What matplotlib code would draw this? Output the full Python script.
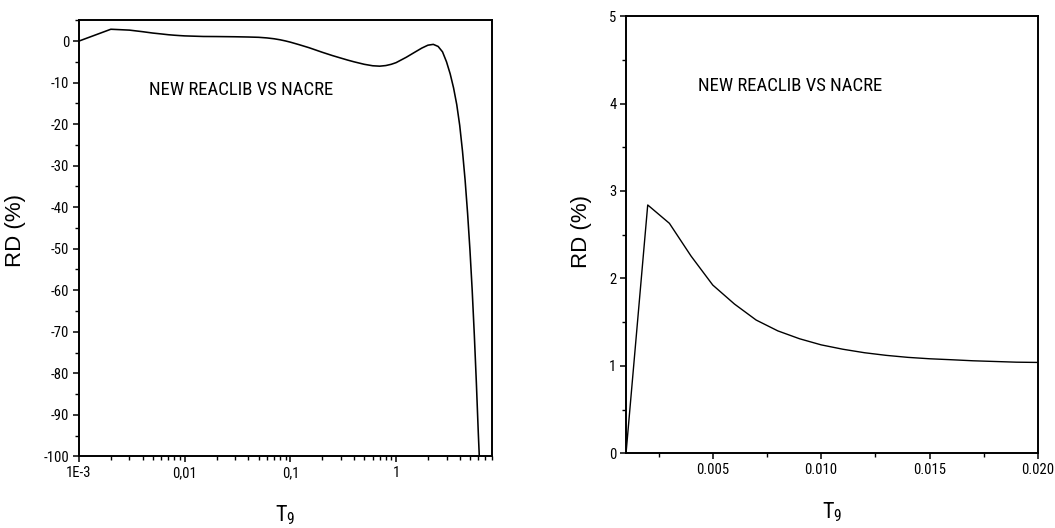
import matplotlib
matplotlib.use("Agg")
import matplotlib.pyplot as plt
from matplotlib.ticker import FixedLocator, FixedFormatter, MultipleLocator, NullFormatter

# ---- data ----
t9_log = [0.001, 0.002, 0.003, 0.004, 0.005, 0.006, 0.007, 0.008, 0.009, 0.01,
          0.015, 0.02, 0.03, 0.04, 0.05, 0.06, 0.07, 0.08, 0.09, 0.1,
          0.12, 0.15, 0.2, 0.25, 0.3, 0.35, 0.4, 0.5, 0.6, 0.7,
          0.8, 0.9, 1.0, 1.25, 1.5, 1.75, 2.0, 2.25, 2.5, 2.75,
          3.0, 3.25, 3.5, 3.75, 4.0, 4.25, 4.5, 4.75, 5.0, 5.25,
          5.5, 5.75, 6.0, 6.13]
rd_log = [0.0, 2.84, 2.63, 2.25, 1.92, 1.71, 1.52, 1.40, 1.31, 1.24,
          1.10, 1.08, 1.03, 0.97, 0.90, 0.75, 0.55, 0.30, 0.02, -0.27,
          -0.85, -1.6, -2.7, -3.5, -4.1, -4.6, -5.0, -5.6, -5.95, -6.05,
          -5.9, -5.6, -5.2, -3.9, -2.7, -1.7, -1.0, -0.8, -1.3, -2.6,
          -5.0, -7.9, -11.3, -15.3, -20.3, -26.5, -33.5, -41.5, -50.3, -60.0,
          -70.8, -82.3, -94.5, -100.0]

t9_lin = [0.001, 0.002, 0.003, 0.004, 0.005, 0.006, 0.007, 0.008, 0.009, 0.010,
          0.011, 0.012, 0.013, 0.014, 0.015, 0.016, 0.017, 0.018, 0.019, 0.020]
rd_lin = [0.0, 2.84, 2.63, 2.255, 1.924, 1.707, 1.524, 1.40, 1.31, 1.24,
          1.19, 1.15, 1.12, 1.097, 1.081, 1.07, 1.058, 1.05, 1.042, 1.039]

left_xticks = [1e-3, 1e-2, 1e-1, 1]
left_xticklabels = ["1E-3", "0,01", "0,1", "1"]
right_xticks = [0.005, 0.010, 0.015, 0.020]
right_xticklabels = ["0.005", "0.010", "0.015", "0.020"]

annot = "NEW REACLIB VS NACRE"
ylabel = "RD (%)"
xlabel = r"$\mathregular{T_9}$"

narrow = ["Roboto Condensed", "Liberation Sans", "DejaVu Sans"]
regular = ["Liberation Sans", "DejaVu Sans"]
plt.rcParams['font.family'] = narrow
plt.rcParams['axes.unicode_minus'] = False
plt.rcParams['mathtext.fontset'] = 'custom'
plt.rcParams['mathtext.rm'] = 'Roboto Condensed'
plt.rcParams['mathtext.it'] = 'Roboto Condensed'

fig = plt.figure(figsize=(10.55, 5.28), dpi=100)
axL = fig.add_axes([0.0749, 0.1356, 0.391, 0.826])
axR = fig.add_axes([0.5934, 0.1415, 0.3905, 0.828])

def style(ax):
    for s in ax.spines.values():
        s.set_linewidth(1.4)
    ax.tick_params(which='major', direction='out', length=4.5, width=1.1,
                   labelsize=10.5, pad=2.5, top=False, right=False)
    ax.tick_params(which='minor', direction='out', length=2.8, width=1.0,
                   top=False, right=False)

# left panel
axL.plot(t9_log, rd_log, color='black', lw=1.15)
axL.set_xscale('log')
axL.set_xlim(1e-3, 8)
axL.set_ylim(-100, 5)
axL.xaxis.set_major_locator(FixedLocator(left_xticks))
axL.xaxis.set_major_formatter(FixedFormatter(left_xticklabels))
minors = [m * 10.0**e for e in range(-3, 1) for m in range(2, 10)]
axL.xaxis.set_minor_locator(FixedLocator([v for v in minors if v <= 8]))
axL.xaxis.set_minor_formatter(NullFormatter())
axL.yaxis.set_major_locator(MultipleLocator(10))
axL.yaxis.set_minor_locator(MultipleLocator(5))
style(axL)
axL.text(0.17, 0.841, annot, transform=axL.transAxes, fontsize=13.5,
         va='center', ha='left')
axL.set_ylabel(ylabel, fontsize=16, family=regular)
axL.yaxis.set_label_coords(-0.128, 0.517)
axL.set_xlabel(xlabel, fontsize=16, labelpad=17)

# right panel
axR.plot(t9_lin, rd_lin, color='black', lw=1.0)
axR.set_xlim(0.001, 0.020)
axR.set_ylim(0, 5)
axR.xaxis.set_major_locator(FixedLocator(right_xticks))
axR.xaxis.set_major_formatter(FixedFormatter(right_xticklabels))
axR.xaxis.set_minor_locator(FixedLocator([0.0025, 0.0075, 0.0125, 0.0175]))
axR.yaxis.set_major_locator(MultipleLocator(1))
axR.yaxis.set_minor_locator(MultipleLocator(0.5))
style(axR)
axR.text(0.174, 0.841, annot, transform=axR.transAxes, fontsize=13.5,
         va='center', ha='left')
axR.set_ylabel(ylabel, fontsize=16, family=regular)
axR.yaxis.set_label_coords(-0.083, 0.508)
axR.set_xlabel(xlabel, fontsize=16, labelpad=17)

fig.savefig("out.png", dpi=100)
